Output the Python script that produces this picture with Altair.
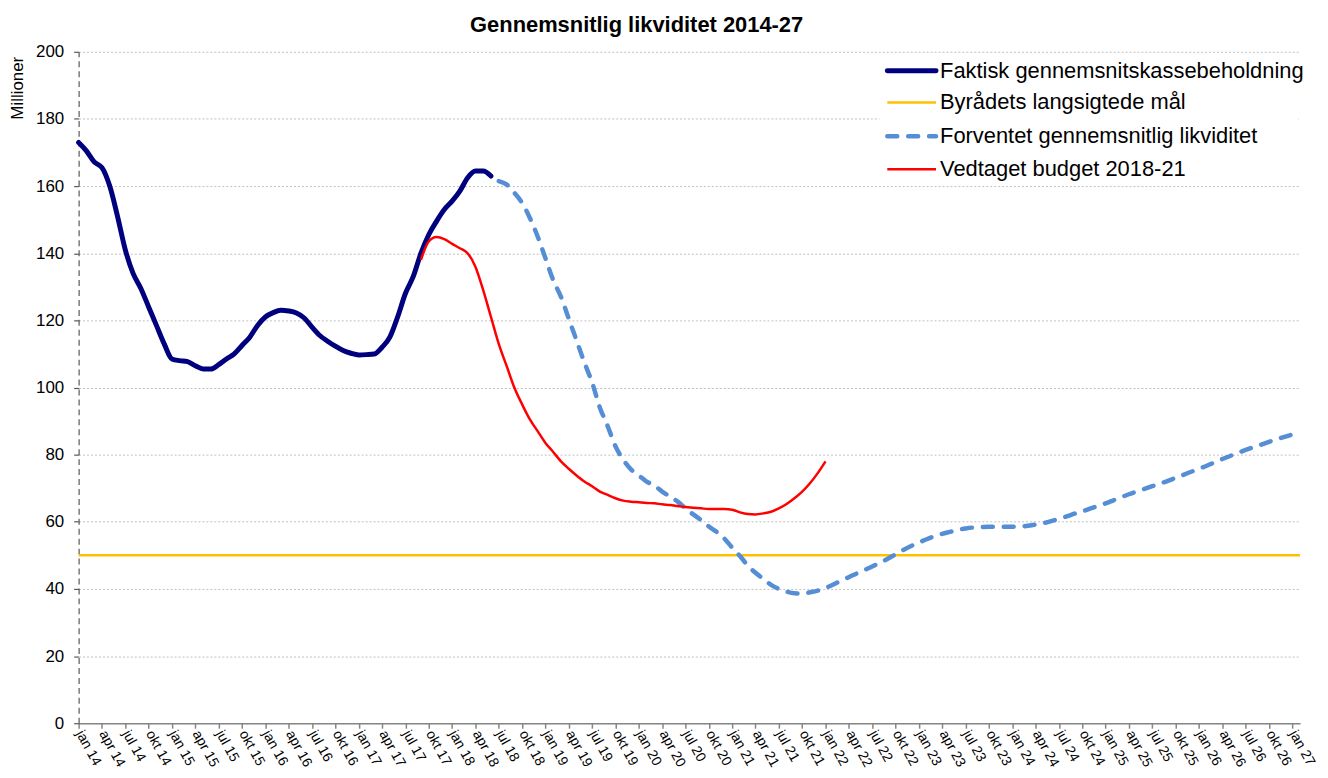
import altair as alt
import pandas as pd

TITLE = "Gennemsnitlig likviditet 2014-27"
Y_TITLE = "Millioner"
SERIES = [
    "Faktisk gennemsnitskassebeholdning",
    "Byrådets langsigtede mål",
    "Forventet gennemsnitlig likviditet",
    "Vedtaget budget 2018-21",
]
COLORS = ["#00007F", "#FFC000", "#558ED5", "#FF0000"]

TICK_LABELS = [
    "jan 14", "apr 14", "jul 14", "okt 14", "jan 15", "apr 15", "jul 15", "okt 15",
    "jan 16", "apr 16", "jul 16", "okt 16", "jan 17", "apr 17", "jul 17", "okt 17",
    "jan 18", "apr 18", "jul 18", "okt 18", "jan 19", "apr 19", "jul 19", "okt 19",
    "jan 20", "apr 20", "jul 20", "okt 20", "jan 21", "apr 21", "jul 21", "okt 21",
    "jan 22", "apr 22", "jul 22", "okt 22", "jan 23", "apr 23", "jul 23", "okt 23",
    "jan 24", "apr 24", "jul 24", "okt 24", "jan 25", "apr 25", "jul 25", "okt 25",
    "jan 26", "apr 26", "jul 26", "okt 26", "jan 27",
]

# month index 0 = jan 2014
ACTUAL_START = 0
ACTUAL = [
    173, 170.5, 167.2, 165.5, 160, 151, 141, 134, 129.5, 124,
    118.5, 113, 108.5, 108, 107.7, 106.5, 105.5, 105.5, 106.8, 108.5,
    110, 112.5, 115, 118.5, 121, 122.3, 123, 122.8, 122.2, 120.7,
    118, 115.5, 113.8, 112.3, 111, 110.2, 109.7, 109.8, 110, 112,
    115, 121, 128, 133, 140, 145.5, 149.5, 153, 155.5, 158.5,
    162.5, 164.5, 164.5, 163,
]

FORECAST_START = 54
FORECAST = [
    161.5, 160.5, 158, 155, 150.5, 145, 138.5, 132, 127, 120.5,
    114, 107.5, 101.5, 94, 88.5, 82.5, 78.5, 75.6, 73.8, 72,
    70.8, 69, 67.5, 66, 64, 62.2, 60.5, 58.6, 57, 55,
    52.3, 49.8, 47, 44.8, 43, 41.2, 40, 39.2, 38.7, 38.6,
    39, 39.5, 40.3, 41.3, 42.5, 43.5, 44.6, 45.6, 46.7, 47.8,
    49, 50.3, 51.6, 52.8, 53.8, 54.8, 55.7, 56.4, 57, 57.6,
    58, 58.3, 58.4, 58.5, 58.5, 58.5, 58.5, 58.6, 58.8, 59.2,
    59.6, 60.2, 60.9, 61.6, 62.4, 63.1, 63.9, 64.7, 65.5, 66.4,
    67.3, 68.2, 69, 69.8, 70.6, 71.4, 72.2, 73.1, 74, 74.9,
    75.8, 76.7, 77.7, 78.7, 79.6, 80.5, 81.4, 82.2, 83, 83.8,
    84.6, 85.3, 86,
]

BUDGET_START = 44
BUDGET = [
    138, 143.5, 144.8, 144.2, 142.8, 141.5, 140, 136, 129, 121,
    113, 106.5, 100, 95, 90.5, 87, 83.5, 80.8, 78, 75.8,
    73.8, 72, 70.6, 69, 68, 67, 66.3, 66, 65.8, 65.6,
    65.5, 65.2, 65, 64.7, 64.4, 64.2, 64, 63.8, 63.8, 63.8,
    63.6, 62.8, 62.3, 62.2, 62.5, 63, 64, 65.3, 67, 69,
    71.5, 74.5, 78,
]

TARGET = 50

Y_TICKS = [0, 20, 40, 60, 80, 100, 120, 140, 160, 180, 200]
X_MAX = 157

W, H = 1228, 675
FONT = "Liberation Sans"


def series_df(start, values, name):
    return pd.DataFrame({
        "month": list(range(start, start + len(values))),
        "value": values,
        "series": name,
    })


label_expr = "[" + ",".join("'%s'" % s for s in TICK_LABELS) + "][round(datum.value / 3)]"

x_enc = alt.X(
    "month:Q",
    scale=alt.Scale(domain=[0, X_MAX], nice=False, zero=False),
    axis=alt.Axis(
        values=list(range(0, 3 * len(TICK_LABELS), 3)),
        labelExpr=label_expr,
        title=None,
        grid=False,
        labelAngle=61,
        labelAlign="left",
        labelBaseline="middle",
        labelPadding=3,
        labelFont=FONT,
        labelFontSize=14,
        labelColor="#000000",
        labelOverlap=False,
        labelFlush=False,
        labelBound=False,
        domainColor="#868686",
        domainWidth=1.5,
        tickColor="#868686",
        tickSize=5,
        tickWidth=1.5,
    ),
)

y_enc = alt.Y(
    "value:Q",
    scale=alt.Scale(domain=[0, 200], nice=False),
    axis=alt.Axis(
        values=Y_TICKS,
        title=None,
        grid=True,
        gridColor="#BFBFBF",
        gridDash=[2, 2],
        gridWidth=1,
        labelFont=FONT,
        labelFontSize=17,
        labelColor="#000000",
        labelPadding=10,
        domainColor="#595959",
        domainDash=[6, 4],
        domainWidth=1.2,
        tickColor="#595959",
        tickSize=5,
        tickWidth=1.2,
    ),
)

actual = alt.Chart(series_df(ACTUAL_START, ACTUAL, SERIES[0])).mark_line(
    color=COLORS[0], strokeWidth=5, interpolate="monotone", strokeCap="round"
).encode(x=x_enc, y=y_enc)

target = alt.Chart(pd.DataFrame({"month": [0, X_MAX], "value": [TARGET, TARGET]})).mark_line(
    color=COLORS[1], strokeWidth=2.5
).encode(x=x_enc, y=y_enc)

forecast = alt.Chart(series_df(FORECAST_START, FORECAST, SERIES[2])).mark_line(
    color=COLORS[2], strokeWidth=4.5, strokeDash=[10, 11], strokeCap="round", interpolate="monotone"
).encode(x=x_enc, y=y_enc)

budget = alt.Chart(series_df(BUDGET_START, BUDGET, SERIES[3])).mark_line(
    color=COLORS[3], strokeWidth=2.5, interpolate="monotone"
).encode(x=x_enc, y=y_enc)

one = pd.DataFrame({"k": [0]})

title = alt.Chart(pd.DataFrame({"t": [TITLE]})).mark_text(
    font=FONT, fontSize=22, fontWeight="bold", align="center", baseline="middle", color="#000000"
).encode(x=alt.value(561), y=alt.value(-27), text="t:N")

ytitle = alt.Chart(pd.DataFrame({"t": [Y_TITLE]})).mark_text(
    font=FONT, fontSize=17, angle=270, align="right", baseline="middle", color="#000000"
).encode(x=alt.value(-61), y=alt.value(5), text="t:N")

legend_bg = alt.Chart(one).mark_rect(color="#FFFFFF").encode(
    x=alt.value(805), x2=alt.value(1226), y=alt.value(3), y2=alt.value(133)
)

legend_layers = [legend_bg]
row_y = [19, 51, 85, 118]
styles = [
    dict(strokeWidth=5, strokeCap="round"),
    dict(strokeWidth=2.5),
    dict(strokeWidth=4.5, strokeDash=[10, 11], strokeCap="round"),
    dict(strokeWidth=2.5),
]
for name, col, yy, st in zip(SERIES, COLORS, row_y, styles):
    d = pd.DataFrame({"t": [name]})
    legend_layers.append(
        alt.Chart(d).mark_rule(color=col, **st).encode(
            x=alt.value(813), x2=alt.value(862), y=alt.value(yy)
        )
    )
    legend_layers.append(
        alt.Chart(d).mark_text(
            font=FONT, fontSize=22, align="left", baseline="middle", color="#000000"
        ).encode(x=alt.value(866), y=alt.value(yy), text="t:N")
    )

chart = alt.layer(
    actual, target, forecast, budget, title, ytitle, *legend_layers
).properties(
    width=W,
    height=H,
    padding={"left": 71, "top": 42, "right": 20, "bottom": 45},
    autosize=alt.AutoSizeParams(type="none"),
    background="#FFFFFF",
).configure_view(stroke=None)

chart.save("out.html", embed_options={"renderer": "svg", "actions": False})
